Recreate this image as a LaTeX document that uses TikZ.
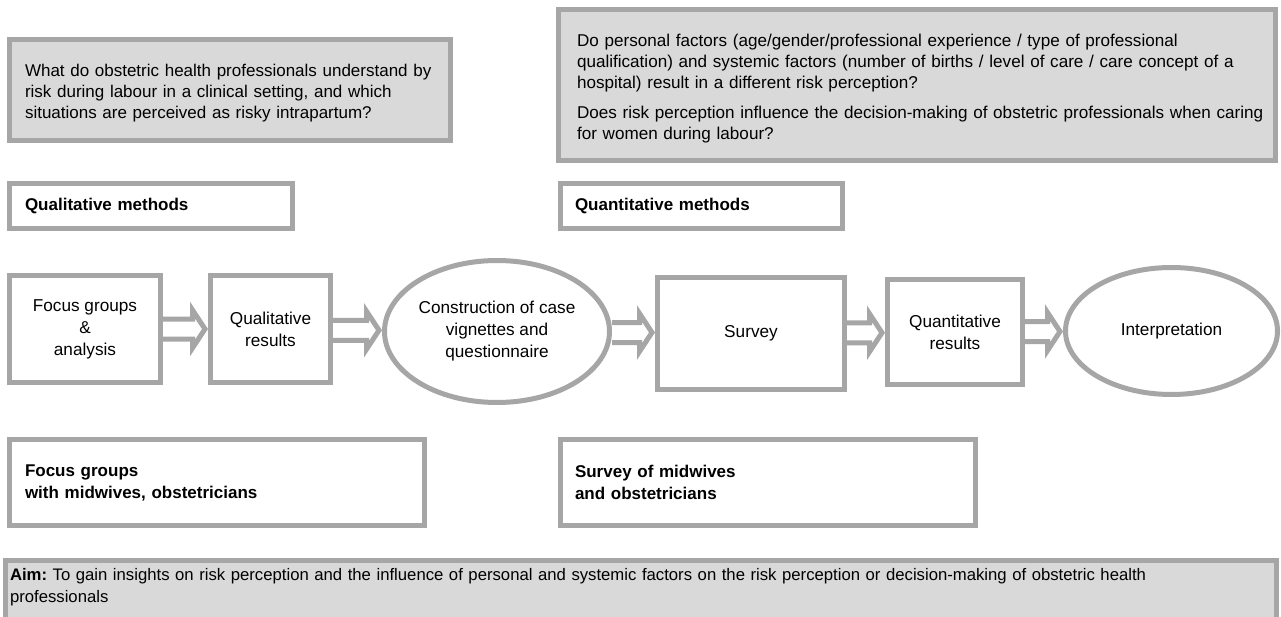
\documentclass[tikz,border=0pt]{standalone}
\usepackage{fontspec}
\setmainfont{Liberation Sans}
\usetikzlibrary{shapes.geometric,calc}
\frenchspacing
\definecolor{bgray}{HTML}{A6A6A6}
\definecolor{fgray}{HTML}{D9D9D9}
\newcommand\qfont{\fontsize{17pt}{21pt}\selectfont}
\newcommand\qqfont{\fontsize{17.1pt}{20.7pt}\selectfont}
\newcommand\aimfont{\fontsize{16.7pt}{22pt}\selectfont}
\newcommand\flfont{\fontsize{17.2pt}{22pt}\selectfont}
\newcommand\lbfont{\fontsize{17pt}{22pt}\selectfont\bfseries}
\newcommand\hollowarrow[2]{%
  \fill[white] let \p1=(#1.east), \p2=(#2.west), \p3=($(\p1)!.5!(\p2)$) in
    (\x1,\y3+10pt) -- (\x2-15.5pt,\y3+10pt) -- (\x2-15.5pt,\y3+19pt) -- (\x2-3pt,\y3)
    -- (\x2-15.5pt,\y3-19pt) -- (\x2-15.5pt,\y3-10pt) -- (\x1,\y3-10pt) -- cycle;
  \draw[arrowline] let \p1=(#1.east), \p2=(#2.west), \p3=($(\p1)!.5!(\p2)$) in
    (\x1,\y3+10pt) -- (\x2-15.5pt,\y3+10pt) -- (\x2-15.5pt,\y3+19pt) -- (\x2-3pt,\y3)
    -- (\x2-15.5pt,\y3-19pt) -- (\x2-15.5pt,\y3-10pt) -- (\x1,\y3-10pt);
}
\tikzset{
  box/.style={rectangle, draw=bgray, line width=5pt, outer sep=2.5pt, inner sep=0pt, anchor=north west},
  qbox/.style={box, fill=fgray, align=left, font=\qfont},
  lblbox/.style={box, fill=white, align=left, font=\lbfont},
  flowbox/.style={box, fill=white, align=center, font=\flfont},
  flowell/.style={ellipse, draw=bgray, line width=5pt, outer sep=2.5pt, inner sep=0pt, fill=white, align=center, font=\flfont},
  arrowline/.style={draw=bgray, line width=5pt, line join=miter},
}
\begin{document}
\begin{tikzpicture}[x=1pt,y=-1pt]
\useasboundingbox (0,0) rectangle (1281,617);
\fill[white] (0,0) rectangle (1281,617);

% question boxes
\node[qbox, minimum width=441pt, minimum height=101pt, text width=410pt] (q1) at (7,37)
  {\mbox{\rule{0pt}{18.5pt}What do obstetric health professionals understand by}\\
   \mbox{risk during labour in a clinical setting, and which}\\
   \mbox{situations are perceived as risky intrapartum?}};
\node[qbox, font=\qqfont, minimum width=717pt, minimum height=151pt, text width=680pt] (q2) at (556,7)
  {\mbox{\rule{0pt}{19.6pt}Do personal factors (age/gender/professional experience / type of professional}\\
   \mbox{qualification) and systemic factors (number of births / level of care / care concept of a}\\
   \mbox{hospital) result in a different risk perception?}\\[10pt]
   \mbox{Does risk perception influence the decision-making of obstetric professionals when caring}\\
   \mbox{for women during labour?}};

% method labels
\node[lblbox, minimum width=283pt, minimum height=45pt, text width=252pt] (qlm) at (7,181) {Qualitative methods};
\node[lblbox, minimum width=282pt, minimum height=45pt, text width=253pt] (qnm) at (558,181) {Quantitative methods};

% flow
\node[flowbox, minimum width=151pt, minimum height=107pt] (fg) at (7,273) {Focus groups\\\&\\analysis};
\node[flowbox, minimum width=120pt, minimum height=107pt] (qr) at (208,273) {Qualitative\\results};
\node[flowell, minimum width=225pt, minimum height=142pt] (cv) at (497,331.5) {Construction of case\\vignettes and\\questionnaire};
\node[flowbox, minimum width=187pt, minimum height=112pt] (sv) at (655,275) {Survey};
\node[flowbox, minimum width=135pt, minimum height=105pt] (qn) at (885,277) {Quantitative\\results};
\node[flowell, minimum width=212pt, minimum height=127pt] (ip) at (1171.5,331) {Interpretation};

\hollowarrow{fg}{qr}
\hollowarrow{qr}{cv}
\hollowarrow{cv}{sv}
\hollowarrow{sv}{qn}
\hollowarrow{qn}{ip}

% participant boxes
\node[lblbox, minimum width=415pt, minimum height=86pt, text width=384pt] (fgw) at (7,437) {Focus groups\\with midwives, obstetricians};
\node[lblbox, minimum width=415pt, minimum height=86pt, text width=386pt] (svw) at (558,437) {Survey of midwives\\and obstetricians};

% aim
\node[qbox, font=\aimfont, minimum width=1271pt, text width=1262pt, inner xsep=4.5pt, inner ysep=8pt, text depth=60pt] (aim) at (3,558)
  {\textbf{Aim:} To gain insights on risk perception and the influence of personal and systemic factors on the risk perception or decision-making of obstetric health\\professionals};
\end{tikzpicture}
\end{document}
